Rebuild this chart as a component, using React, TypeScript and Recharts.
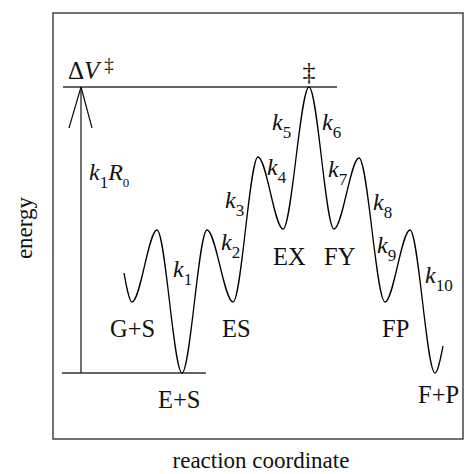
import { LineChart, Line, XAxis, YAxis, ReferenceLine, ReferenceDot, ReferenceArea } from "recharts";

// reaction coordinate (arbitrary units) and energy at each turning point of the profile
const coord = [7.1, 7.9, 10.4, 12.9, 15.4, 18.0, 20.5, 23.0, 25.6, 28.1, 30.6, 33.2, 35.7, 38.2, 39.0];
const energy = [16.6, 13.7, 20.9, 6.6, 20.9, 13.7, 28.2, 21.0, 35.2, 21.0, 28.1, 13.7, 20.9, 6.6, 9.3];

const X_MAX = 41;
const E_MAX = 42.6;
const E_GROUND = 6.6; // E+S level
const E_TS = 35.2; // transition state level

// state names under the wells
const stateNames = ["G+S", "E+S", "ES", "EX", "FY", "FP", "F+P"];
const stateX = [5.7, 10.5, 16.9, 22.0, 27.1, 32.9, 36.5];
const stateE = [10.2, 3.1, 10.2, 17.4, 17.4, 10.2, 3.6];

// rate constants k1..k10 beside the barriers
const rateIdx = ["1", "2", "3", "4", "5", "6", "7", "8", "9", "10"];
const rateX = [12.0, 16.8, 17.2, 21.4, 21.9, 26.9, 27.5, 32.0, 32.4, 37.2];
const rateE = [16.2, 18.9, 23.1, 26.4, 30.9, 30.9, 26.2, 22.9, 18.6, 15.6];

const data = coord.map((x, i) => ({ x, energy: energy[i] }));

const FONT = "'Liberation Serif', 'Times New Roman', serif";
const INK = "#111";

const plain = (txt: string) => (p: any) => (
  <text x={p.cx} y={p.cy} fontFamily={FONT} fontSize={24.5} fill={INK}>
    {txt}
  </text>
);

const rate = (sub: string) => (p: any) => (
  <text x={p.cx} y={p.cy} fontFamily={FONT} fontSize={24} fill={INK}>
    <tspan fontStyle="italic">k</tspan>
    <tspan fontSize={17} dy={8}>{sub}</tspan>
  </text>
);

const barrier = (p: any) => (
  <text x={p.cx} y={p.cy} fontFamily={FONT} fontSize={25} fill={INK}>
    Δ<tspan fontStyle="italic">V</tspan>
    <tspan fontSize={19} dx={5} dy={-8}>‡</tspan>
  </text>
);

const flux = (p: any) => (
  <text x={p.cx} y={p.cy} fontFamily={FONT} fontSize={24} fill={INK}>
    <tspan fontStyle="italic">k</tspan>
    <tspan fontSize={17} dy={8}>1</tspan>
    <tspan fontStyle="italic" dy={-8}>R</tspan>
    <tspan fontSize={13} dy={7}>0</tspan>
  </text>
);

const dagger = (p: any) => (
  <text x={p.cx} y={p.cy} fontFamily={FONT} fontSize={26} fill={INK} textAnchor="middle">
    ‡
  </text>
);

const xTitle = ({ viewBox }: any) => (
  <text
    x={viewBox.x + viewBox.width / 2 + 3}
    y={viewBox.y + 29}
    fontFamily={FONT}
    fontSize={23}
    fill={INK}
    textAnchor="middle"
  >
    reaction coordinate
  </text>
);

const yTitle = ({ viewBox }: any) => {
  const x = viewBox.x + 32;
  const y = viewBox.y + viewBox.height / 2 + 2;
  return (
    <text
      x={x}
      y={y}
      fontFamily={FONT}
      fontSize={23}
      fill={INK}
      textAnchor="middle"
      transform={`rotate(-90, ${x}, ${y})`}
    >
      energy
    </text>
  );
};

export default function App() {
  return (
    <div style={{ position: "absolute", left: 0, top: 0, background: "#fff" }}>
      <LineChart width={467} height={474} data={data} margin={{ top: 13, right: 4, bottom: 0, left: 0 }}>
        <XAxis
          type="number"
          dataKey="x"
          domain={[0, X_MAX]}
          allowDataOverflow
          height={35}
          tick={false}
          tickLine={false}
          axisLine={false}
          label={xTitle}
        />
        <YAxis
          type="number"
          domain={[0, E_MAX]}
          allowDataOverflow
          width={53}
          tick={false}
          tickLine={false}
          axisLine={false}
          label={yTitle}
        />
        <ReferenceArea
          x1={0}
          x2={X_MAX}
          y1={0}
          y2={E_MAX}
          fill="none"
          fillOpacity={0}
          stroke="#444"
          strokeWidth={1.5}
          ifOverflow="visible"
        />
        <ReferenceLine
          segment={[{ x: 1.0, y: E_TS }, { x: 28.4, y: E_TS }]}
          stroke="#333"
          strokeWidth={1.3}
        />
        <ReferenceLine
          segment={[{ x: 0.9, y: E_GROUND }, { x: 15.3, y: E_GROUND }]}
          stroke="#333"
          strokeWidth={1.3}
        />
        <ReferenceLine
          segment={[{ x: 2.8, y: E_GROUND }, { x: 2.8, y: E_TS }]}
          stroke="#111"
          strokeWidth={1.2}
        />
        <ReferenceLine
          segment={[{ x: 1.6, y: 31.1 }, { x: 2.8, y: E_TS }]}
          stroke="#111"
          strokeWidth={1.2}
        />
        <ReferenceLine
          segment={[{ x: 3.9, y: 31.1 }, { x: 2.8, y: E_TS }]}
          stroke="#111"
          strokeWidth={1.2}
        />
        <Line
          type="monotone"
          dataKey="energy"
          stroke="#000"
          strokeWidth={1.3}
          dot={false}
          activeDot={false}
          isAnimationActive={false}
        />
        {stateNames.map((n, i) => (
          <ReferenceDot key={n} x={stateX[i]} y={stateE[i]} r={0} shape={plain(n)} />
        ))}
        {rateIdx.map((s, i) => (
          <ReferenceDot key={"k" + s} x={rateX[i]} y={rateE[i]} r={0} shape={rate(s)} />
        ))}
        <ReferenceDot x={1.5} y={36.0} r={0} shape={barrier} />
        <ReferenceDot x={3.6} y={25.9} r={0} shape={flux} />
        <ReferenceDot x={25.6} y={35.9} r={0} shape={dagger} />
      </LineChart>
    </div>
  );
}
